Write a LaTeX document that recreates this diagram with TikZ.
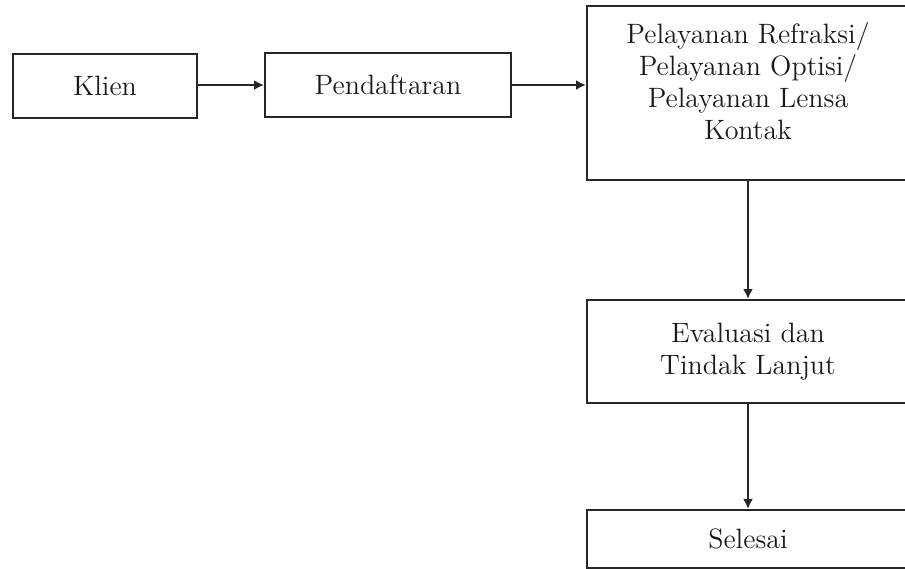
\documentclass[tikz,border=0pt]{standalone}
\usetikzlibrary{arrows.meta}
\begin{document}
\begin{tikzpicture}[x=0.5pt, y=-0.5pt,
    kotak/.style={draw=black!85, line width=1pt, align=center, inner sep=2pt, font=\fontsize{14pt}{16pt}\selectfont, text=black!90},
    panah/.style={-{Latex[length=5pt,width=5pt]}, line width=1pt, draw=black!85}]
    \useasboundingbox (0,0) rectangle (905,568);
    \node[kotak, minimum width=92pt, minimum height=32pt] (klien) at (105,86) {Klien};
    \node[kotak, minimum width=123pt, minimum height=32pt] (daftar) at (388,85) {Pendaftaran};
    \node[kotak, minimum width=161pt, minimum height=87pt] (layanan) at (748,93) {Pelayanan Refraksi/\\Pelayanan Optisi/\\Pelayanan Lensa\\Kontak\\[-4pt]};
    \node[kotak, minimum width=161pt, minimum height=51.5pt] (evaluasi) at (748,351.5) {Evaluasi dan\\Tindak Lanjut};
    \node[kotak, minimum width=161pt, minimum height=29pt] (selesai) at (748,539) {Selesai};
    \draw[panah] (klien.east |- daftar.east) -- (daftar.west);
    \draw[panah] (daftar.east) -- (daftar.east -| layanan.west);
    \draw[panah] (layanan) -- (evaluasi);
    \draw[panah] (evaluasi) -- (selesai);
\end{tikzpicture}
\end{document}
